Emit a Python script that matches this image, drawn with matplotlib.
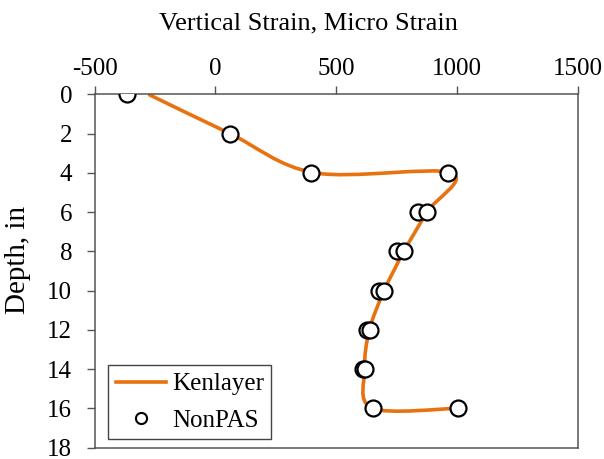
import matplotlib
matplotlib.use("Agg")
import matplotlib.pyplot as plt
from matplotlib.path import Path
from matplotlib.patches import PathPatch
from matplotlib.lines import Line2D
import numpy as np

# Data
ken_depth = [0, 2, 4, 4, 6, 8, 10, 12, 14, 16, 16]
ken_strain = [-277, 60, 410, 975, 876, 781, 699, 638, 618, 650, 1005]

nonpas_depth = [0, 2, 4, 4, 6, 6, 8, 8, 10, 10, 12, 12, 14, 14, 16, 16]
nonpas_strain = [-366, 59, 394, 964, 840, 876, 751, 781, 678, 699, 627, 640, 613, 620, 654, 1005]

x_ticks = [-500, 0, 500, 1000, 1500]
y_ticks = [0, 2, 4, 6, 8, 10, 12, 14, 16, 18]

plt.rcParams['font.family'] = ['Liberation Serif', 'DejaVu Serif']
plt.rcParams['axes.unicode_minus'] = False
FS_TICK = 18
FS_LABEL = 19
FS_YLABEL = 21
FS_LEG = 18
orange = '#E8720F'

fig = plt.figure(figsize=(6.04, 4.59), dpi=100)
ax = fig.add_axes([0.1565, 0.025, 0.8, 0.7696])

# Smoothed line (Excel-style Bezier through points)
pts = np.column_stack([ken_strain, ken_depth]).astype(float)
n = len(pts)
verts = [tuple(pts[0])]
codes = [Path.MOVETO]
for i in range(n - 1):
    p0 = pts[i - 1] if i > 0 else pts[i]
    p1 = pts[i]
    p2 = pts[i + 1]
    p3 = pts[i + 2] if i + 2 < n else pts[i + 1]
    c1 = p1 + (p2 - p0) / 6.0
    c2 = p2 - (p3 - p1) / 6.0
    verts += [tuple(c1), tuple(c2), tuple(p2)]
    codes += [Path.CURVE4] * 3
patch = PathPatch(Path(verts, codes), facecolor='none', edgecolor=orange,
                  lw=2.6, zorder=2, capstyle='butt')
ax.add_patch(patch)

ax.plot(nonpas_strain, nonpas_depth, linestyle='none', marker='o', ms=11.5,
        mfc='white', mec='black', mew=1.6, zorder=3)

ax.set_xlim(-500, 1500)
ax.set_ylim(18, 0)
ax.set_xticks(x_ticks)
ax.set_yticks(y_ticks)
ax.xaxis.tick_top()
ax.xaxis.set_label_position('top')
ax.tick_params(axis='both', direction='out', length=6, width=1, color='#555555',
               labelsize=FS_TICK)
ax.tick_params(axis='x', pad=4)
ax.tick_params(axis='y', pad=10)
for s in ax.spines.values():
    s.set_color('#555555')
    s.set_linewidth(1.1)
ax.set_xlabel('Vertical Strain, Micro Strain', fontsize=FS_LABEL)
ax.xaxis.set_label_coords(0.442, 1.168)
ax.xaxis.label.set_va('bottom')
ax.set_ylabel('Depth, in', fontsize=FS_YLABEL)
ax.yaxis.label.set_va('center')
ax.yaxis.set_label_coords(-0.158, 0.53)

handles = [Line2D([], [], color=orange, lw=2.6),
           Line2D([], [], linestyle='none', marker='o', ms=8, mfc='white',
                  mec='black', mew=1.5)]
leg = ax.legend(handles, ['Kenlayer', 'NonPAS'], loc='lower left',
                bbox_to_anchor=(0.028, 0.024), borderaxespad=0, fontsize=FS_LEG,
                fancybox=False, framealpha=1, edgecolor='#444444',
                handlelength=2.0, handletextpad=0.25, borderpad=0.3,
                labelspacing=0.55)
leg.get_frame().set_linewidth(1.0)

fig.savefig('out.png', dpi=100)
